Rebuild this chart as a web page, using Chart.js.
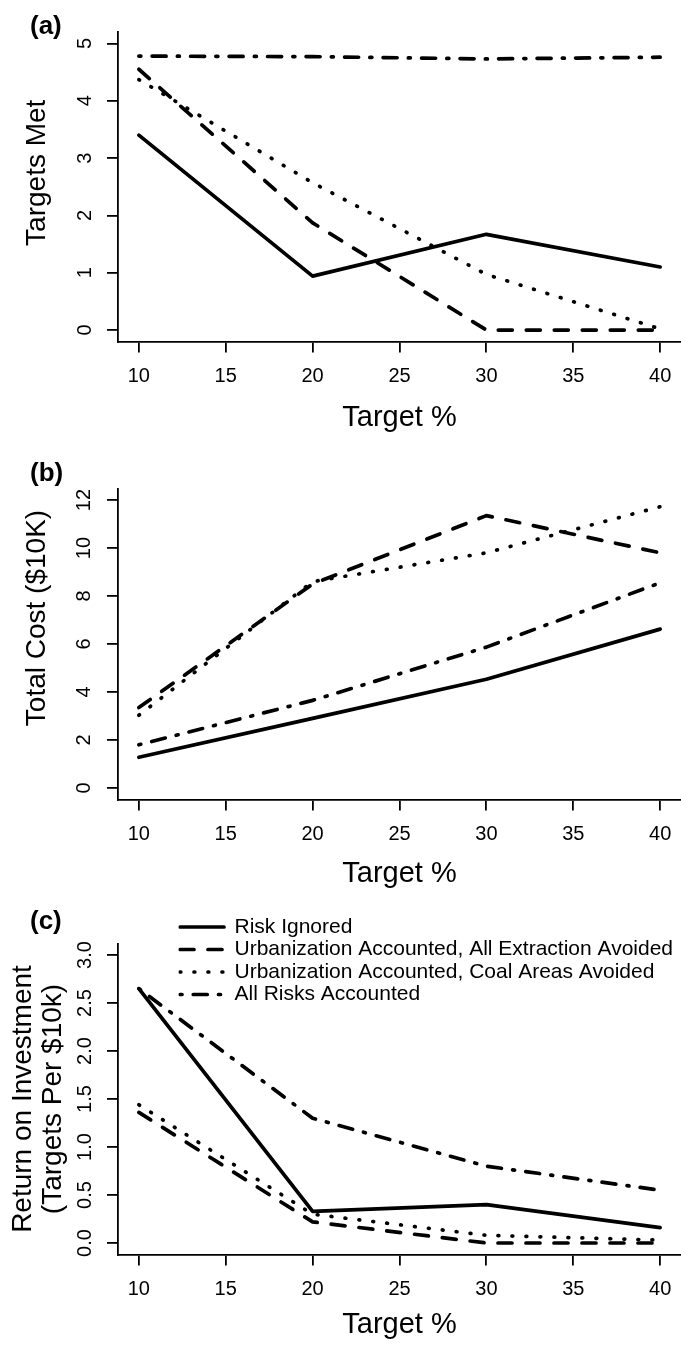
<!DOCTYPE html>
<html>
<head>
<meta charset="utf-8">
<script src="https://cdn.jsdelivr.net/npm/chart.js@4.4.1/dist/chart.umd.min.js"></script>
<style>
html, body { margin: 0; padding: 0; background: #fff; }
body { width: 681px; height: 1348px; position: relative; overflow: hidden; }
canvas { position: absolute; left: 0; }
</style>
</head>
<body>
<canvas id="panelA" width="681" height="450" style="top:0px"></canvas>
<canvas id="panelB" width="681" height="450" style="top:450px"></canvas>
<canvas id="panelC" width="681" height="448" style="top:900px"></canvas>
<script>
// target % on the x axis, same for every panel
var targetPct = [10, 20, 30, 40];
var xTicks = [10, 15, 20, 25, 30, 35, 40];

var seriesNames = [
    "Risk Ignored",
    "Urbanization Accounted, All Extraction Avoided",
    "Urbanization Accounted, Coal Areas Avoided",
    "All Risks Accounted"
];

// (a) targets met
var metRiskIgnored   = [3.40, 0.94, 1.67, 1.10];
var metAllExtraction = [4.55, 1.87, 0.00, 0.00];
var metCoalAreas     = [4.37, 2.57, 0.97, 0.02];
var metAllRisks      = [4.78, 4.77, 4.73, 4.76];

// (b) total cost ($10K)
var costRiskIgnored   = [1.28, 2.90, 4.53, 6.62];
var costAllExtraction = [3.35, 8.50, 11.35, 9.80];
var costCoalAreas     = [3.03, 8.60, 9.80, 11.72];
var costAllRisks      = [1.80, 3.65, 5.87, 8.55];

// (c) return on investment (targets per $10k)
var roiRiskIgnored   = [2.65, 0.33, 0.40, 0.16];
var roiAllExtraction = [1.36, 0.22, 0.00, 0.00];
var roiCoalAreas     = [1.44, 0.30, 0.08, 0.03];
var roiAllRisks      = [2.65, 1.30, 0.80, 0.55];

var yTicksA = [0, 1, 2, 3, 4, 5];
var yTicksB = [0, 2, 4, 6, 8, 10, 12];
var yTicksC = [0, 0.5, 1, 1.5, 2, 2.5, 3];
var yLabelsC = ["0.0", "0.5", "1.0", "1.5", "2.0", "2.5", "3.0"];

Chart.defaults.font.family = "'Liberation Sans', Arial, Helvetica, sans-serif";
Chart.defaults.color = "#000";

var LW = 3.7;
// solid, dashed, dotted, dot-dash (R lty 1..4)
var dashes = [[], [14, 14], [0.8, 13.2], [2, 11.25, 14, 11.25]];

// moves the panel letter, the legend and the y title where R put them
var nudge = {
    id: "nudge",
    afterLayout: function(chart, args, opts) {
        if (chart.titleBlock) {
            chart.titleBlock.left = opts.labelX;
        }
        if (opts.legendTop != null && chart.legend) {
            chart.legend.left = opts.legendLeft;
            chart.legend.top = opts.legendTop;
        }
        var ys = chart.scales.y;
        if (opts.titleLift && !ys._lifted) {
            var d = opts.titleLift;
            ys._lifted = true;
            ys.drawTitle = function() {
                this.top -= d; this.bottom -= d;
                Object.getPrototypeOf(this).drawTitle.call(this);
                this.top += d; this.bottom += d;
            };
        }
    }
};

function axisLines() {
    return {
        grid: { display: true, drawOnChartArea: false, drawTicks: true, tickLength: 11, color: "#000", lineWidth: 1.8 },
        border: { display: true, color: "#000", width: 1.8 }
    };
}

function makePanel(id, cfg) {
    var datasets = cfg.series.map(function(vals, i) {
        return {
            label: seriesNames[i],
            data: vals.map(function(v, j) { return { x: targetPct[j], y: v }; }),
            borderColor: "#000",
            backgroundColor: "#000",
            borderWidth: LW,
            borderDash: dashes[i],
            borderCapStyle: "round",
            borderJoinStyle: "round",
            pointRadius: 0,
            tension: 0,
            fill: false
        };
    });

    var xAxis = axisLines();
    xAxis.type = "linear";
    xAxis.min = 8.8;
    xAxis.max = 41.2;
    xAxis.bounds = "data";
    xAxis.afterBuildTicks = function(s) { s.ticks = xTicks.map(function(v) { return { value: v }; }); };
    xAxis.afterFit = function(s) { s.height = cfg.xAxisH; s.paddingLeft = 0; s.paddingRight = 0; };
    xAxis.ticks = { minRotation: 0, maxRotation: 0, autoSkip: false, padding: 11.5, font: { size: 20 } };
    xAxis.title = { display: true, text: "Target %", font: { size: 29, lineHeight: 1 }, padding: { top: 0, bottom: cfg.xTitlePad } };

    var yAxis = axisLines();
    yAxis.type = "linear";
    yAxis.min = cfg.yMin;
    yAxis.max = cfg.yMax;
    yAxis.bounds = "data";
    yAxis.afterBuildTicks = function(s) { s.ticks = cfg.yTicks.map(function(v) { return { value: v }; }); };
    yAxis.afterFit = function(s) { s.width = 118; s.paddingTop = 0; s.paddingBottom = 0; };
    yAxis.ticks = {
        minRotation: 90, maxRotation: 90, crossAlign: "center", autoSkip: false,
        padding: cfg.yTickPad, font: { size: 20 },
        callback: function(v, i) { return cfg.yLabels ? cfg.yLabels[i] : String(v); }
    };
    yAxis.title = { display: true, text: cfg.yTitle, font: { size: 28, lineHeight: cfg.yTitleLH }, padding: { top: cfg.yTitlePad, bottom: 0 } };

    return new Chart(document.getElementById(id), {
        type: "line",
        data: { datasets: datasets },
        plugins: [nudge],
        options: {
            responsive: false,
            animation: false,
            events: [],
            layout: { padding: 0 },
            scales: { x: xAxis, y: yAxis },
            plugins: {
                tooltip: { enabled: false },
                title: {
                    display: true, text: cfg.letter, align: "start",
                    font: { size: 26, weight: "bold", lineHeight: 1 },
                    padding: { top: cfg.letterTop, bottom: cfg.letterBottom }
                },
                legend: cfg.legend ? {
                    display: true, position: "chartArea", align: "start",
                    labels: {
                        usePointStyle: true, pointStyle: "line", pointStyleWidth: 44,
                        padding: 1.5, font: { size: 21 }, color: "#000",
                        generateLabels: function(chart) {
                            var items = Chart.defaults.plugins.legend.labels.generateLabels(chart);
                            items.forEach(function(it, i) {
                                it.lineDash = dashes[i];
                                it.lineCap = "round";
                                it.lineWidth = LW;
                            });
                            return items;
                        }
                    }
                } : { display: false },
                nudge: { labelX: 30, legendLeft: cfg.legendLeft, legendTop: cfg.legendTop, titleLift: cfg.titleLift }
            }
        }
    });
}

makePanel("panelA", {
    letter: "(a)", letterTop: 14, letterBottom: -8,
    series: [metRiskIgnored, metAllExtraction, metCoalAreas, metAllRisks],
    yMin: -0.2, yMax: 5.2, yTicks: yTicksA, yTickPad: 16.4,
    yTitle: "Targets Met", yTitleLH: 1, yTitlePad: 23, titleLift: 14,
    xAxisH: 108.5, xTitlePad: 18
});

makePanel("panelB", {
    letter: "(b)", letterTop: 11, letterBottom: 1.5,
    series: [costRiskIgnored, costAllExtraction, costCoalAreas, costAllRisks],
    yMin: -0.48, yMax: 12.48, yTicks: yTicksB, yTickPad: 10.9,
    yTitle: "Total Cost ($10K)", yTitleLH: 1, yTitlePad: 23, titleLift: 26,
    xAxisH: 100.5, xTitlePad: 12
});

makePanel("panelC", {
    letter: "(c)", letterTop: 9, letterBottom: 8.5,
    series: [roiRiskIgnored, roiAllExtraction, roiCoalAreas, roiAllRisks],
    yMin: -0.12, yMax: 3.12, yTicks: yTicksC, yLabels: yLabelsC, yTickPad: 8.1,
    yTitle: ["Return on Investment", "(Targets Per $10k)"], yTitleLH: 1.1, yTitlePad: 7.5,
    xAxisH: 93.5, xTitlePad: 9,
    legend: true, legendLeft: 178.5, legendTop: 15
});
</script>
</body>
</html>
